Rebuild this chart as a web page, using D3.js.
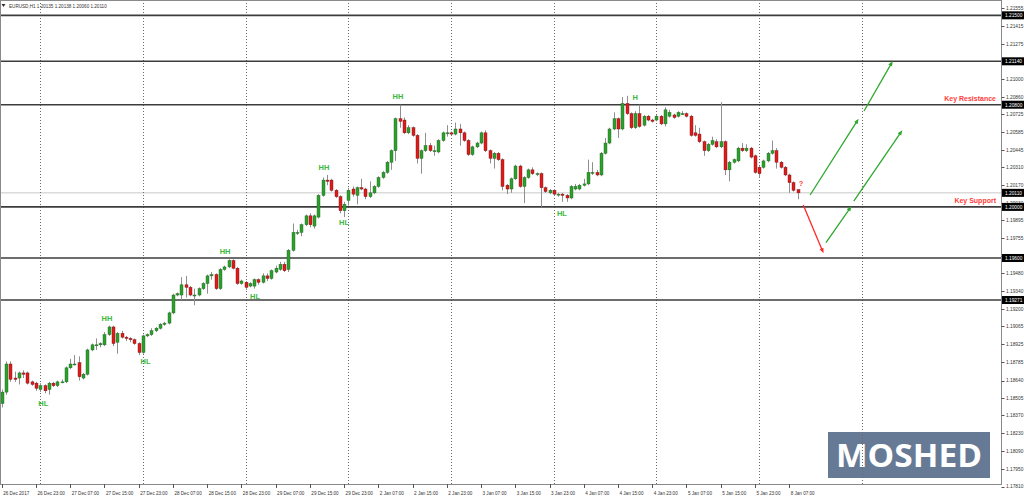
<!DOCTYPE html>
<html><head><meta charset="utf-8">
<script src="https://cdn.jsdelivr.net/npm/d3@7"></script>
<style>html,body{margin:0;padding:0;background:#fff;overflow:hidden}svg{display:block}</style>
</head><body>
<svg id="c" width="1024" height="499"></svg>
<script>
// ---------- data ----------
const symbol = "EURUSD,H1";
const opens = [1.1846,1.1855,1.1877,1.1866,1.1866,1.1870,1.1870,1.1863,1.1862,1.1857,1.1860,1.1857,1.1862,1.1860,1.18625,1.1863,1.1874,1.1877,1.1878,1.1866,
1.1869,1.1888,1.1892,1.1892,1.1892,1.1900,1.1906,1.1894,1.1901,1.1898,1.1897,1.1896,1.1893,1.1886,1.1899,1.1900,1.1903,1.1905,1.1908,1.1909,
1.1917,1.1931,1.1931,1.1939,1.1937,1.1931,1.1931,1.1936,1.1940,1.1946,1.1947,1.1936,1.1951,1.1953,1.1958,1.1952,1.1940,1.1941,1.1938,1.1938,
1.1943,1.1941,1.1946,1.1944,1.1949,1.1951,1.1955,1.1951,1.1966,1.1980,1.1980,1.1986,1.1993,1.1985,1.1992,1.2009,1.2021,1.2021,1.2013,1.2008,
1.1997,1.2005,1.2014,1.2009,1.2015,1.2014,1.2008,1.2011,1.2016,1.2023,1.2027,1.2035,1.2044,1.2069,1.2068,1.2058,1.2062,1.2056,1.2038,1.2044,
1.2048,1.2044,1.2043,1.2052,1.2058,1.2058,1.2057,1.2061,1.2058,1.2052,1.2041,1.2047,1.2050,1.2058,1.2044,1.2038,1.2042,1.2037,1.2017,1.2014,
1.2022,1.2032,1.2016,1.2023,1.2029,1.2026,1.2026,1.2015,1.2011,1.2013,1.2010,1.2010,1.2009,1.2007,1.2014,1.2014,1.2017,1.2018,1.2027,1.2027,
1.2025,1.2042,1.2050,1.2061,1.2069,1.2061,1.2081,1.2073,1.2062,1.2073,1.2064,1.2071,1.2068,1.2068,1.2071,1.2065,1.2071,1.2072,1.2071,1.2073,
1.2073,1.2071,1.2058,1.2057,1.2051,1.2044,1.2049,1.2051,1.2047,1.2051,1.2029,1.2035,1.2036,1.2046,1.2044,1.2046,1.2040,1.2031,1.2031,1.2036,
1.2042,1.2044,1.2035,1.2031,1.2025,1.2019,1.20135];
const highs = [1.1857,1.1879,1.1879,1.1871,1.1871,1.1872,1.1871,1.1864,1.1863,1.1862,1.1861,1.1863,1.1863,1.1864,1.1865,1.1875,1.1881,1.1884,1.1883,1.1870,
1.1889,1.1893,1.1897,1.1894,1.1902,1.1907,1.1907,1.1902,1.1903,1.1899,1.1898,1.1897,1.1894,1.1900,1.1901,1.1905,1.1906,1.1909,1.1910,1.1918,
1.1932,1.1933,1.1945,1.1946,1.1938,1.1936,1.1937,1.1941,1.1947,1.1949,1.1948,1.1952,1.1954,1.1959,1.1959,1.1953,1.1943,1.1942,1.1941,1.1944,
1.1944,1.1948,1.1948,1.1951,1.1954,1.1957,1.1957,1.1967,1.1987,1.1982,1.1987,1.1994,1.1995,1.1994,1.2010,1.2023,1.2025,1.2022,1.2014,1.2009,
1.2004,1.2015,1.2016,1.2016,1.2022,1.2015,1.2020,1.2017,1.2024,1.2028,1.2036,1.2045,1.2070,1.2080,1.2070,1.2064,1.2063,1.2057,1.2045,1.2058,
1.2050,1.2048,1.2053,1.2059,1.2064,1.2059,1.2066,1.2065,1.2059,1.2053,1.2048,1.2051,1.2059,1.2060,1.2045,1.2043,1.2043,1.2038,1.2018,1.2023,
1.2033,1.2033,1.2024,1.2030,1.2031,1.2027,1.2027,1.2016,1.2014,1.2014,1.2011,1.2011,1.2010,1.2017,1.2018,1.2018,1.2022,1.2037,1.2035,1.2029,
1.2043,1.2054,1.2062,1.2074,1.2070,1.2086,1.2087,1.2074,1.2075,1.2080,1.2072,1.2072,1.2069,1.2072,1.2072,1.2078,1.2076,1.2073,1.2075,1.2075,
1.2074,1.2072,1.2064,1.2062,1.2052,1.2050,1.2055,1.2053,1.2082,1.2052,1.2036,1.2038,1.2047,1.2050,1.2049,1.2047,1.2041,1.2032,1.2037,1.2043,
1.2052,1.2046,1.2036,1.2032,1.2026,1.2020,1.20138];
const lows = [1.1843,1.1853,1.1863,1.1863,1.1861,1.1866,1.1861,1.1860,1.1856,1.1855,1.1854,1.1853,1.1859,1.1859,1.1862,1.1862,1.1873,1.1876,1.1864,1.1865,
1.1868,1.1887,1.1888,1.1890,1.1891,1.1899,1.1891,1.1885,1.1897,1.1895,1.1894,1.1892,1.1884,1.1885,1.1898,1.1899,1.1902,1.1904,1.1907,1.1908,
1.1916,1.1930,1.1927,1.1929,1.1930,1.1923,1.1930,1.1935,1.1932,1.1943,1.1935,1.1935,1.1950,1.1952,1.1951,1.1939,1.1939,1.1935,1.1937,1.1936,
1.1939,1.1940,1.1942,1.1943,1.1948,1.1950,1.1949,1.1949,1.1965,1.1978,1.1977,1.1985,1.1984,1.1983,1.1991,1.2008,1.2017,1.2012,1.2007,1.1995,
1.1992,1.2001,1.2008,1.2002,1.2013,1.2006,1.2007,1.2010,1.2015,1.2022,1.2026,1.2029,1.2036,1.2062,1.2057,1.2057,1.2055,1.2034,1.2026,1.2043,
1.2043,1.2040,1.2042,1.2051,1.2055,1.2056,1.2056,1.2048,1.2051,1.2040,1.2040,1.2046,1.2049,1.2043,1.2034,1.2030,1.2036,1.2013,1.2010,1.2011,
1.2021,1.2015,1.2003,1.2022,1.2025,1.2024,1.2000,1.2011,1.2010,1.2009,1.2008,1.2004,1.2004,1.2006,1.2013,1.2013,1.2016,1.2017,1.2025,1.2024,
1.2024,1.2041,1.2049,1.2060,1.2054,1.2060,1.2072,1.2061,1.2061,1.2062,1.2063,1.2067,1.2066,1.2067,1.2064,1.2063,1.2070,1.2069,1.2070,1.2072,
1.2070,1.2055,1.2055,1.2050,1.2040,1.2043,1.2048,1.2046,1.2046,1.2025,1.2020,1.2034,1.2035,1.2043,1.2043,1.2038,1.2026,1.2023,1.2030,1.2035,
1.2041,1.2030,1.2030,1.2024,1.2011,1.2012,1.20060];
const closes = [1.1855,1.1877,1.1865,1.1865,1.1870,1.1869,1.1862,1.1861,1.1858,1.1860,1.1856,1.1862,1.1860,1.1863,1.1863,1.1874,1.1877,1.1877,1.1867,1.1869,
1.1888,1.1892,1.1892,1.1893,1.1900,1.1906,1.1893,1.1901,1.1898,1.1897,1.1896,1.1893,1.1886,1.1899,1.1900,1.1903,1.1905,1.1908,1.1909,1.1917,
1.1931,1.1932,1.1939,1.1937,1.1931,1.1931,1.1936,1.1940,1.1946,1.1947,1.1936,1.1951,1.1953,1.1958,1.1952,1.1940,1.1942,1.1937,1.1940,1.1943,
1.1941,1.1946,1.1944,1.1950,1.1952,1.1955,1.1950,1.1966,1.1980,1.1980,1.1986,1.1993,1.1986,1.1993,1.2009,1.2021,1.2020,1.2013,1.2008,1.1997,
1.2002,1.2013,1.2010,1.2015,1.2014,1.2008,1.2011,1.2016,1.2023,1.2027,1.2035,1.2044,1.2069,1.2067,1.2058,1.2062,1.2056,1.2038,1.2044,1.2048,
1.2044,1.2044,1.2052,1.2058,1.2058,1.2057,1.2061,1.2058,1.2052,1.2041,1.2047,1.2050,1.2058,1.2044,1.2038,1.2042,1.2037,1.2016,1.2014,1.2022,
1.2032,1.2016,1.2023,1.2029,1.2026,1.2026,1.2015,1.2012,1.2013,1.2010,1.2010,1.2009,1.2007,1.2016,1.2016,1.2017,1.2018,1.2027,1.2027,1.2025,
1.2042,1.2050,1.2061,1.2069,1.2061,1.2081,1.2073,1.2062,1.2073,1.2063,1.2071,1.2068,1.2067,1.2071,1.2065,1.2076,1.2074,1.2070,1.2074,1.2073,
1.2071,1.2056,1.2056,1.2051,1.2044,1.2049,1.2052,1.2047,1.2051,1.2029,1.2035,1.2037,1.2046,1.2044,1.2046,1.2039,1.2027,1.2026,1.2036,1.2042,
1.2044,1.2035,1.2031,1.2025,1.2019,1.2013,1.20110];

const xTickBars = [0,8,16,24,32,40,48,56,64,72,80,88,96,104,112,120,128,136,144,152,160,168,176,184];
const xTickLabels = ["26 Dec 2017","26 Dec 23:00","27 Dec 07:00","27 Dec 15:00","27 Dec 23:00","28 Dec 07:00","28 Dec 15:00","28 Dec 23:00",
"29 Dec 07:00","29 Dec 15:00","29 Dec 23:00","2 Jan 07:00","2 Jan 15:00","2 Jan 23:00","3 Jan 07:00","3 Jan 15:00","3 Jan 23:00",
"4 Jan 07:00","4 Jan 15:00","4 Jan 23:00","5 Jan 07:00","5 Jan 15:00","5 Jan 23:00","8 Jan 07:00"];
const separatorBars = [9,33,57,81,105,129,153,177,201];
const yTickValues = [1.21555,1.21415,1.21275,1.21135,1.21000,1.20860,1.20725,1.20585,1.20445,1.20310,1.20170,1.20030,1.19895,1.19755,
1.19615,1.19480,1.19340,1.19200,1.19065,1.18925,1.18785,1.18640,1.18505,1.18370,1.18230,1.18090,1.17950,1.17810];
const levelLines = [1.21500,1.21140,1.20800,1.20000,1.19600,1.19271];
const bidPrice = 1.20110;
const keyTexts = ["Key Resistance","Key Support"];
const keyLevels = [1.20800,1.20000];
const swingLabels = ["HL","HH","HL","HH","HL","HH","HL","HH","HL","H"];
const swingBars = [9.7,24.6,33.6,52.2,59.2,75.3,80.0,92.6,130.9,148.0];
const swingPrices = [1.18457,1.19130,1.18788,1.19647,1.19302,1.20307,1.19874,1.20868,1.19952,1.20853];
const questionBar = 186.8, questionPrice = 1.20187;
const arrowColors = ["red","green","green","green","green"];
const arrowBar0 = [187.3,188.9,192.6,199.1,201.5];
const arrowPrice0 = [1.20015,1.20093,1.19720,1.20046,1.20751];
const arrowBar1 = [191.8,199.9,198.2,210.1,207.9];
const arrowPrice1 = [1.19655,1.20673,1.19989,1.20584,1.21124];
const watermark = "MOSHED";

// ---------- scales ----------
const W = 1024, H = 499, plotRight = 1001, plotBottom = 484;
const x = d3.scaleLinear().domain([-0.4, 233.5]).range([0, plotRight]);
const y = d3.scaleLinear().domain([1.1781, 1.2162]).range([486.6, 0]);
const fmt = d3.format(".5f");
const svg = d3.select("#c");
const FONT = "'Liberation Sans', Arial, sans-serif";

const defs = svg.append("defs");
defs.append("clipPath").attr("id","plot")
  .append("rect").attr("x",0).attr("y",0).attr("width",plotRight).attr("height",plotBottom);
[["red","#ff2a2a"],["green","#2ea82e"]].forEach(([k,c])=>{
  defs.append("marker").attr("id","ah-"+k).attr("viewBox","0 0 10 10").attr("refX",5).attr("refY",5)
    .attr("markerWidth",4).attr("markerHeight",4).attr("orient","auto")
    .append("path").attr("d","M0,1 L10,5 L0,9 z").attr("fill",c);
});
const colorOf = {red:"#ff2a2a", green:"#2ea82e"};

// watermark box (under the chart marks)
const wm = svg.append("g");
wm.append("rect").attr("x",828).attr("y",432).attr("width",162).attr("height",46).attr("fill","#667a95");
wm.append("text").attr("x",909).attr("y",467).attr("text-anchor","middle")
  .attr("font-family","'Open Sans','Liberation Sans',sans-serif").attr("font-weight",700).attr("font-size",33)
  .attr("fill","#ffffff").attr("textLength",146).attr("lengthAdjust","spacingAndGlyphs").text(watermark);

const plot = svg.append("g").attr("clip-path","url(#plot)");

// bid line
plot.append("line").attr("x1",0).attr("x2",plotRight).attr("y1",y(bidPrice)).attr("y2",y(bidPrice))
  .attr("stroke","#c9c9c9").attr("stroke-width",1);

// separators
plot.selectAll("line.sep").data(separatorBars).join("line").attr("class","sep")
  .attr("x1",d=>Math.round(x(d))+0.5).attr("x2",d=>Math.round(x(d))+0.5).attr("y1",0).attr("y2",plotBottom)
  .attr("stroke","#6a6a6a").attr("stroke-width",1).attr("stroke-dasharray","1,2");

// level lines
plot.selectAll("line.lvl").data(levelLines).join("line").attr("class","lvl")
  .attr("x1",0).attr("x2",plotRight).attr("y1",d=>y(d)).attr("y2",d=>y(d))
  .attr("stroke","#3c3c3c").attr("stroke-width",1.6);

// candles
const idx = d3.range(opens.length);
plot.selectAll("line.wick").data(idx).join("line").attr("class","wick")
  .attr("x1",i=>Math.round(x(i))+0.5).attr("x2",i=>Math.round(x(i))+0.5)
  .attr("y1",i=>y(highs[i])).attr("y2",i=>y(lows[i]))
  .attr("stroke","#8f8f8f").attr("stroke-width",1);
plot.selectAll("rect.body").data(idx).join("rect").attr("class","body")
  .attr("x",i=>Math.round(x(i))-1).attr("width",3)
  .attr("y",i=>y(Math.max(opens[i],closes[i])))
  .attr("height",i=>Math.max(1, Math.abs(y(opens[i])-y(closes[i]))))
  .attr("fill",i=>closes[i]>=opens[i] ? "#2ca02c" : "#e01b1b")
  .attr("stroke",i=>closes[i]>=opens[i] ? "#1d5e1d" : "#6e1010").attr("stroke-width",0.4);

// arrows
plot.selectAll("line.arr").data(d3.range(arrowColors.length)).join("line").attr("class","arr")
  .attr("x1",k=>x(arrowBar0[k])).attr("y1",k=>y(arrowPrice0[k]))
  .attr("x2",k=>x(arrowBar1[k])).attr("y2",k=>y(arrowPrice1[k]))
  .attr("stroke",k=>colorOf[arrowColors[k]]).attr("stroke-width",1.3)
  .attr("marker-end",k=>"url(#ah-"+arrowColors[k]+")");

// swing labels
svg.selectAll("text.sw").data(swingLabels).join("text").attr("class","sw")
  .attr("x",(d,k)=>x(swingBars[k])).attr("y",(d,k)=>y(swingPrices[k])+2.5)
  .attr("text-anchor","middle").attr("font-family",FONT).attr("font-weight","bold").attr("font-size",7.5)
  .attr("fill","#3cb83c").text(d=>d);
svg.append("text").attr("x",x(questionBar)).attr("y",y(questionPrice)+2.5).attr("text-anchor","middle")
  .attr("font-family",FONT).attr("font-weight","bold").attr("font-size",7.5).attr("fill","#ff4040").text("?");

// key texts
svg.selectAll("text.key").data(keyTexts).join("text").attr("class","key")
  .attr("x",996).attr("y",(d,k)=>y(keyLevels[k])-3.5).attr("text-anchor","end")
  .attr("font-family",FONT).attr("font-weight","bold").attr("font-size",7)
  .attr("fill","#ff3c3c").text(d=>d);

// frame
svg.append("rect").attr("x",0.5).attr("y",0.5).attr("width",plotRight).attr("height",plotBottom)
  .attr("fill","none").attr("stroke","#8a8a8a").attr("stroke-width",1);

// y axis
const ya = svg.append("g");
ya.selectAll("line").data(yTickValues).join("line")
  .attr("x1",plotRight+0.5).attr("x2",plotRight+3.5).attr("y1",d=>Math.round(y(d))+0.5).attr("y2",d=>Math.round(y(d))+0.5)
  .attr("stroke","#555");
ya.selectAll("text").data(yTickValues).join("text")
  .attr("x",1006).attr("y",d=>y(d)+1.8).attr("font-family",FONT).attr("font-size",4.8).attr("fill","#333")
  .text(d=>fmt(d));

// boxed levels on axis
const boxes = levelLines.concat([bidPrice]);
const bx = svg.append("g");
bx.selectAll("rect").data(boxes).join("rect").attr("x",1002).attr("y",d=>y(d)-4).attr("width",22).attr("height",8).attr("fill","#000");
bx.selectAll("text").data(boxes).join("text").attr("x",1005).attr("y",d=>y(d)+1.8)
  .attr("font-family",FONT).attr("font-size",4.8).attr("fill","#fff").text(d=>fmt(d));

// x axis
const xa = svg.append("g");
xa.selectAll("line").data(xTickBars).join("line")
  .attr("x1",d=>Math.round(x(d))+0.5).attr("x2",d=>Math.round(x(d))+0.5).attr("y1",plotBottom).attr("y2",plotBottom+4)
  .attr("stroke","#555");
xa.selectAll("text").data(xTickLabels).join("text")
  .attr("x",(d,k)=>x(xTickBars[k])+1.5).attr("y",495).attr("font-family",FONT).attr("font-size",4.6).attr("fill","#333")
  .text(d=>d);

// header
const last = opens.length-1;
const hdr = svg.append("g");
hdr.append("path").attr("d","M1.5,4 L5.5,4 L3.5,7 z").attr("fill","#333");
hdr.append("text").attr("x",9).attr("y",7.5).attr("font-family",FONT).attr("font-size",4.6).attr("fill","#333")
  .text(symbol + "  " + [opens[last],highs[last],lows[last],closes[last]].map(fmt).join(" "));
</script>
</body></html>
